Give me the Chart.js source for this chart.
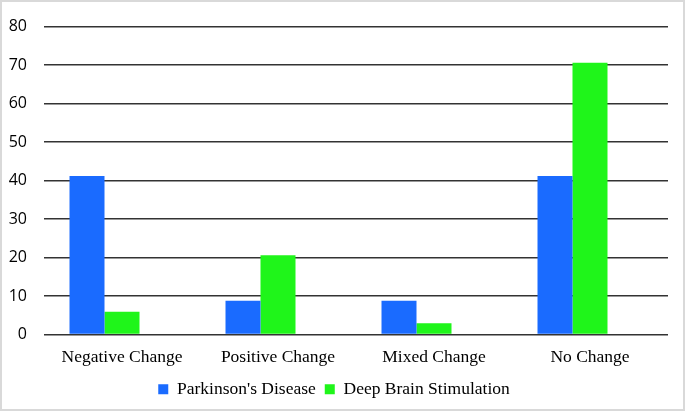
<!DOCTYPE html>
<html>
<head>
<meta charset="utf-8">
<script src="https://cdn.jsdelivr.net/npm/chart.js@4"></script>
<style>
  body { margin: 0; background: #fff; }
  canvas { display: block; }
</style>
</head>
<body>
<canvas id="changeChart" width="685" height="411"></canvas>
<script>
// Chart values
const categories = ['Negative Change', 'Positive Change', 'Mixed Change', 'No Change'];
const parkinsons = [41.2, 8.8, 8.8, 41.2];
const deepBrain = [5.9, 20.6, 2.9, 70.6];
const emptySeries = [null, null, null, null]; // third slot, left blank in the original
const yTicks = [0, 10, 20, 30, 40, 50, 60, 70, 80];

// light frame round the whole picture
const framePlugin = {
  id: 'frame',
  beforeDraw(chart) {
    const c = chart.ctx;
    c.save();
    c.fillStyle = '#fff';
    c.fillRect(0, 0, chart.width, chart.height);
    c.strokeStyle = '#d9d9d9';
    c.lineWidth = 2;
    c.strokeRect(1, 1, chart.width - 2, chart.height - 2);
    c.restore();
  }
};

const ctx = document.getElementById('changeChart').getContext('2d');
new Chart(ctx, {
  type: 'bar',
  data: {
    labels: categories,
    datasets: [
      { label: "Parkinson's Disease", data: parkinsons, backgroundColor: '#1a6bff' },
      { label: 'Deep Brain Stimulation', data: deepBrain, backgroundColor: '#1ff51a' },
      { label: '', data: emptySeries, backgroundColor: 'transparent' }
    ]
  },
  options: {
    responsive: false,
    animation: false,
    layout: { padding: { top: 20, right: 17, left: 0, bottom: 3 } },
    datasets: {
      bar: { categoryPercentage: 0.673, barPercentage: 1 }
    },
    scales: {
      x: {
        grid: { display: false },
        border: { display: false },
        ticks: {
          color: '#000',
          padding: 4,
          font: { family: 'Liberation Serif', size: 17.5 }
        }
      },
      y: {
        min: 0,
        max: 80,
        afterFit(scale) { scale.width = 44; },
        afterBuildTicks(scale) { scale.ticks = yTicks.map(v => ({ value: v })); },
        grid: { color: '#333', lineWidth: 1.5, drawTicks: false },
        border: { display: false },
        ticks: {
          color: '#000',
          padding: 17,
          font: { family: 'Open Sans', size: 16 }
        }
      }
    },
    plugins: {
      tooltip: { enabled: false },
      legend: {
        position: 'bottom',
        labels: {
          color: '#000',
          boxWidth: 10,
          boxHeight: 10,
          padding: 9,
          font: { family: 'Liberation Serif', size: 17.5 },
          filter: item => item.text !== ''
        }
      }
    }
  },
  plugins: [framePlugin]
});
</script>
</body>
</html>
